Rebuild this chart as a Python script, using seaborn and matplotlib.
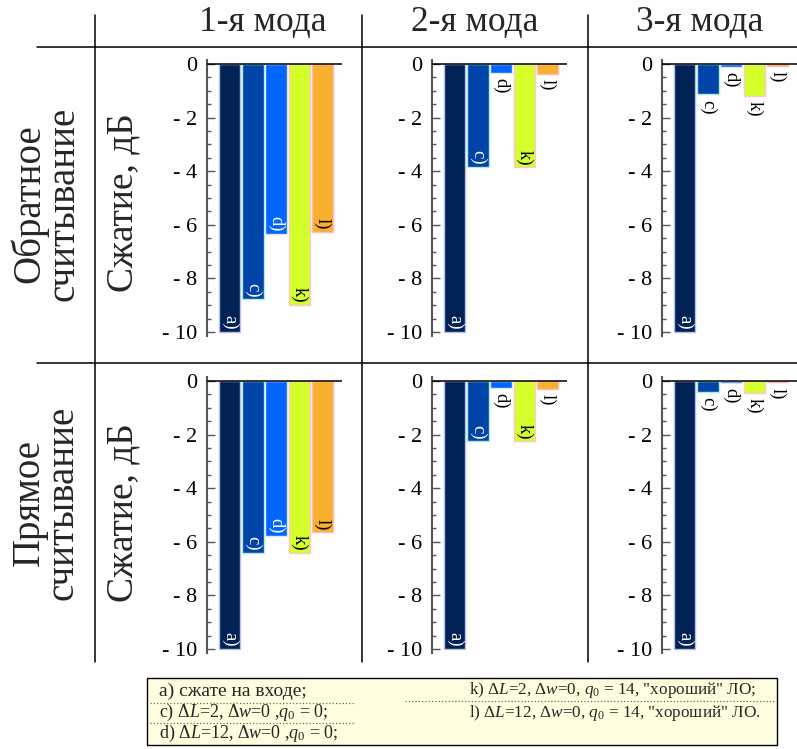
import matplotlib
matplotlib.use('Agg')
import matplotlib.pyplot as plt
import pandas as pd
import seaborn as sns
from matplotlib.lines import Line2D
from matplotlib.patches import Rectangle
from matplotlib.ticker import MultipleLocator, FuncFormatter

""" Compression of the squeezed modes for the two readout schemes """

sns.set_theme(style='white')
plt.rcParams['font.family'] = ['Liberation Serif', 'DejaVu Serif']
plt.rcParams['mathtext.fontset'] = 'custom'
plt.rcParams['mathtext.rm'] = 'Liberation Serif'
plt.rcParams['mathtext.it'] = 'Liberation Serif:italic'

# cases and panels
cases = ['a)', 'c)', 'd)', 'k)', 'l)']
modes = ['1-я мода', '2-я мода', '3-я мода']
readouts = ['Обратное\nсчитывание', 'Прямое\nсчитывание']

# squeezing, dB
back_mode1 = [-10.0, -8.78, -6.33, -9.0, -6.26]
back_mode2 = [-10.0, -3.83, -0.32, -3.86, -0.37]
back_mode3 = [-10.0, -1.13, -0.1, -1.18, -0.07]
fwd_mode1 = [-10.0, -6.4, -5.77, -6.4, -5.64]
fwd_mode2 = [-10.0, -2.25, -0.26, -2.25, -0.3]
fwd_mode3 = [-10.0, -0.4, -0.07, -0.44, -0.05]

legend_left = [
    'a) сжате на входе;',
    r'c) $\Delta L$=2, $\Delta w$=0 ,$q_0$ = 0;',
    r'd) $\Delta L$=12, $\Delta w$=0 ,$q_0$ = 0;',
]
legend_right = [
    r'k) $\Delta L$=2, $\Delta w$=0, $q_0$ = 14, "хороший" ЛО;',
    r'l) $\Delta L$=12, $\Delta w$=0, $q_0$ = 14, "хороший" ЛО.',
]

bar_colors = ['#002255', '#0044aa', '#0066ff', '#d4ff2a', '#f9b02e']
edge_colors = ['#b8bce8', '#a8f0d8', '#e0e8ff', '#ffc8c8', '#ffb8b8']
label_colors = ['white', 'white', 'white', 'black', 'black']

table = [back_mode1, back_mode2, back_mode3, fwd_mode1, fwd_mode2, fwd_mode3]
rows = []
for i, values in enumerate(table):
    for case, v in zip(cases, values):
        rows.append({'readout': readouts[i // 3], 'mode': modes[i % 3],
                     'case': case, 'value': v})
df = pd.DataFrame(rows)

W, H = 797, 749
fig = plt.figure(figsize=(W / 100, H / 100), dpi=100)


def px_axes(x0, y0, w, h):
    return fig.add_axes([x0 / W, 1 - (y0 + h) / H, w / W, h / H])


def minus_fmt(v, pos):
    if abs(v) < 1e-9:
        return '0'
    return f'- {abs(v):.0f}'


col_left = [207, 432, 662]
row_top = [60, 377]

for r, readout in enumerate(readouts):
    for c, mode in enumerate(modes):
        ax = px_axes(col_left[c], row_top[r], 135, 276)
        sub = df[(df['readout'] == readout) & (df['mode'] == mode)]
        sns.barplot(data=sub, x='case', y='value', hue='case', order=cases,
                    hue_order=cases, palette=bar_colors, saturation=1,
                    legend=False, width=0.92, ax=ax)
        for patch, ec in zip(ax.patches, edge_colors):
            patch.set_edgecolor(ec)
            patch.set_linewidth(1.0)

        # labels inside long bars, under short ones
        for i, (case, v) in enumerate(zip(sub['case'], sub['value'])):
            if abs(v) > 1.5:
                ax.text(i, v + 0.08, case, rotation=-90, ha='center', va='bottom',
                        color=label_colors[i], fontsize=13.5)
            else:
                ax.text(i, v - 0.2, case, rotation=-90, ha='center', va='top',
                        color='black', fontsize=13.5)

        ax.axhline(0, color='black', lw=1.1, zorder=5)
        ax.set_xlim(-0.98, 4.85)
        ax.set_ylim(-10.15, 0.15)
        ax.set_xticks([])
        ax.set_xlabel('')
        ax.set_ylabel('')
        ax.yaxis.set_major_locator(MultipleLocator(2))
        ax.yaxis.set_minor_locator(MultipleLocator(0.5))
        ax.yaxis.set_major_formatter(FuncFormatter(minus_fmt))
        ax.tick_params(axis='y', which='major', direction='in', length=6,
                       width=1, color='#555555', labelsize=16, pad=7, left=True,
                       labelcolor='black')
        ax.tick_params(axis='y', which='minor', direction='in', length=3,
                       width=1, color='#555555', left=True)
        ax.set_facecolor('none')
        sns.despine(ax=ax, top=True, right=True, bottom=True)
        ax.spines['left'].set_color('#555555')
        ax.spines['left'].set_linewidth(1.5)

        if c == 0:
            fig.text(123 / W, 1 - [203, 513][r] / H, 'Сжатие, дБ', rotation=90,
                     ha='center', va='center', fontsize=27)

# headers and table grid
for x, mode in zip([263, 475, 700], modes):
    fig.text(x / W, 1 - 22 / H, mode, ha='center', va='center', fontsize=25.5)
for y, readout in zip([204, 503], readouts):
    fig.text(46 / W, 1 - y / H, readout, rotation=90, ha='center', va='center',
             fontsize=28, linespacing=0.9)

for x in [95, 362, 588]:
    fig.add_artist(Line2D([x / W, x / W], [1 - 15 / H, 1 - 662 / H],
                          color='black', lw=1.1))
for y in [47, 363]:
    fig.add_artist(Line2D([37 / W, 1], [1 - y / H, 1 - y / H],
                          color='black', lw=1.1))

# legend box
fig.add_artist(Rectangle((147 / W, 1 - 745 / H), 630 / W, 67 / H,
                         facecolor='#ffffe0', edgecolor='black', lw=1.0))
for y, s, fs in zip([691, 712, 733], legend_left, [14, 13, 13]):
    fig.text(159 / W, 1 - y / H, s, ha='left', va='center', fontsize=fs)
for y, s in zip([690, 713], legend_right):
    fig.text(469 / W, 1 - y / H, s, ha='left', va='center', fontsize=12.3)
for y in [703, 723]:
    fig.add_artist(Line2D([150 / W, 355 / W], [1 - y / H, 1 - y / H],
                          color='#666666', lw=0.9, ls=':'))
fig.add_artist(Line2D([405 / W, 775 / W], [1 - 701 / H, 1 - 701 / H],
                      color='#666666', lw=0.9, ls=':'))

fig.savefig('out.png', dpi=100, facecolor='white')
